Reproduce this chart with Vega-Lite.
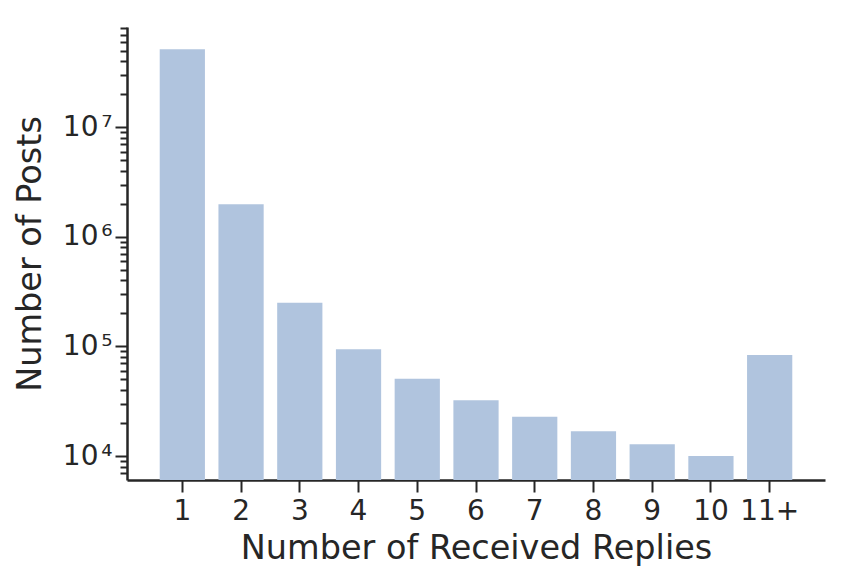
{
  "$schema": "https://vega.github.io/schema/vega-lite/v6.json",
  "width": 698,
  "height": 453,
  "autosize": {"type": "none"},
  "padding": {"left": 127, "top": 27, "right": 28, "bottom": 105},
  "background": "white",
  "data": {
    "values": [
      {"replies": "1", "posts": 51500000},
      {"replies": "2", "posts": 1980000},
      {"replies": "3", "posts": 251000},
      {"replies": "4", "posts": 94100},
      {"replies": "5", "posts": 50800},
      {"replies": "6", "posts": 32200},
      {"replies": "7", "posts": 22800},
      {"replies": "8", "posts": 16800},
      {"replies": "9", "posts": 12800},
      {"replies": "10", "posts": 10000},
      {"replies": "11+", "posts": 83500}
    ]
  },
  "mark": {"type": "bar", "color": "#b0c4de"},
  "encoding": {
    "x": {
      "field": "replies",
      "type": "ordinal",
      "sort": null,
      "title": "Number of Received Replies",
      "scale": {"paddingInner": 0.23, "paddingOuter": 0.557},
      "axis": {
        "labelAngle": 0,
        "labelFontSize": 28,
        "labelPadding": 5,
        "tickSize": 12,
        "titlePadding": 7
      }
    },
    "y": {
      "field": "posts",
      "type": "quantitative",
      "title": "Number of Posts",
      "scale": {"type": "log", "domain": [6040, 82300000], "nice": false},
      "axis": {
        "values": [6000, 7000, 8000, 9000, 10000, 20000, 30000, 40000, 50000, 60000, 70000, 80000, 90000, 100000, 200000, 300000, 400000, 500000, 600000, 700000, 800000, 900000, 1000000, 2000000, 3000000, 4000000, 5000000, 6000000, 7000000, 8000000, 9000000, 10000000, 20000000, 30000000, 40000000, 50000000, 60000000, 70000000, 80000000],
        "labelExpr": "datum.value == 10000 ? '10\u200a⁴' : datum.value == 100000 ? '10\u200a⁵' : datum.value == 1000000 ? '10\u200a⁶' : datum.value == 10000000 ? '10\u200a⁷' : ''",
        "tickSize": {"condition": {"test": "indexof([10000, 100000, 1000000, 10000000], datum.value) >= 0", "value": 12}, "value": 7},
        "labelFontSize": 28,
        "labelPadding": 3,
        "titlePadding": 15,
        "labelOverlap": false
      }
    },
    "y2": {"datum": 6040}
  },
  "config": {
    "view": {"stroke": null},
    "font": "DejaVu Sans",
    "axis": {
      "grid": false,
      "domainColor": "#262626",
      "domainWidth": 2.5,
      "tickColor": "#262626",
      "tickWidth": 2,
      "labelColor": "#262626",
      "titleColor": "#262626",
      "labelFont": "DejaVu Sans",
      "titleFont": "DejaVu Sans",
      "titleFontSize": 33.5,
      "titleFontWeight": "normal"
    }
  }
}
